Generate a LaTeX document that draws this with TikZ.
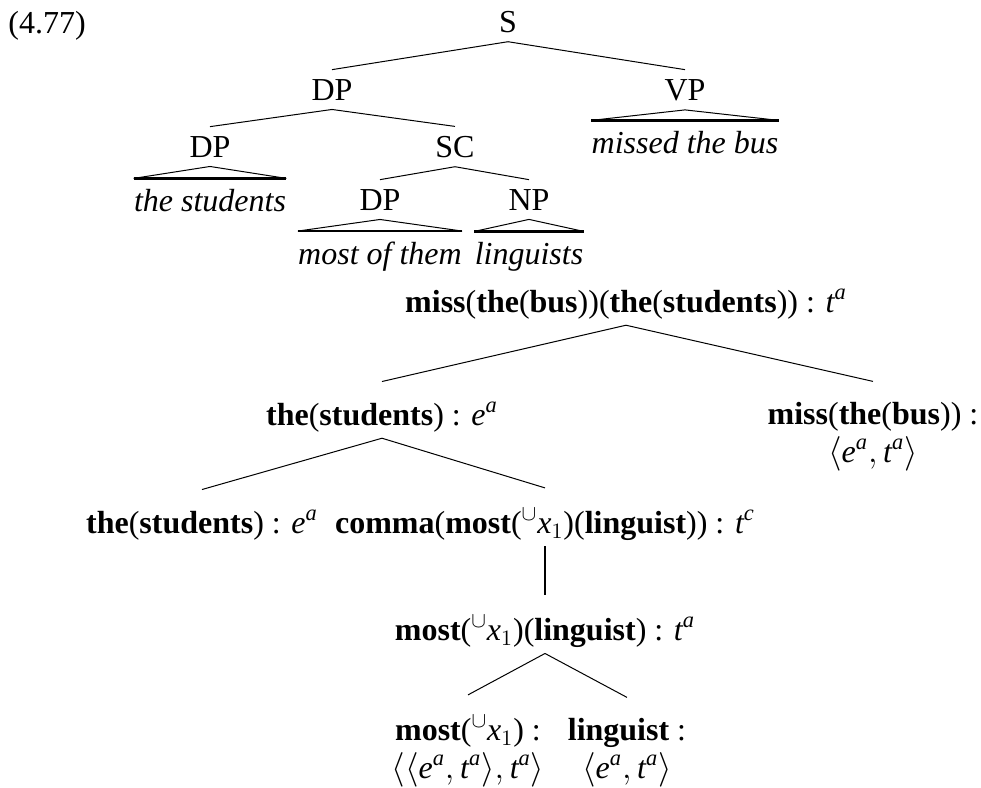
\documentclass[tikz,border=0pt]{standalone}
\usepackage{amsmath}
\usepackage{fontspec}
\setmainfont{Liberation Serif}
\usetikzlibrary{positioning}

\newcommand{\lexi}[1]{\textbf{#1}}
\newcommand{\stype}[2]{\ensuremath{\textit{#1}^{\textit{#2}}}}
\newcommand{\cupx}{\ensuremath{^{\cup}\textit{x}_{1}}}

\begin{document}
\begin{tikzpicture}[
  x=0.5pt, y=-0.5pt,
  font=\fontsize{16}{17}\selectfont,
  cat/.style={anchor=base, inner sep=4.5pt},
  leaf/.style={anchor=base, font=\fontsize{16}{17}\selectfont\itshape, inner xsep=0pt, inner ysep=5pt},
  sem/.style={anchor=base, inner sep=3pt, align=center},
  branch/.style={line width=0.5pt},
  roof/.style={line width=0.5pt},
  roofbase/.style={line width=1.3pt},
  unary/.style={line width=0.9pt}
]
\useasboundingbox (0,0) rectangle (981,788);

\node[anchor=base west, inner sep=0pt] (num) at (8,33) {(4.77)};

\node[cat] (s) at (508,32) {S};
\node[cat] (dpa) at (332,100) {DP};
\node[cat] (vp) at (685,100) {VP};
\node[cat] (dpb) at (210,157) {DP};
\node[cat] (sc) at (455,157) {SC};
\node[leaf] (stud) at (210,211) {the students};
\node[leaf] (bus) at (685,153) {missed the bus};
\node[cat] (dpc) at (380,210) {DP};
\node[cat] (np) at (529,210) {NP};
\node[leaf] (them) at (380,264) {most of them};
\node[leaf] (ling) at (529,264) {linguists};

\draw[branch] (s.south) -- (dpa.north);
\draw[branch] (s.south) -- (vp.north);
\draw[branch] (dpa.south) -- (dpb.north);
\draw[branch] (dpa.south) -- (sc.north);
\draw[branch] (sc.south) -- (dpc.north);
\draw[branch] (sc.south) -- (np.north);

\draw[roof] (vp.south) -- (bus.north west) (vp.south) -- (bus.north east);
\draw[roofbase] (bus.north west) -- (bus.north east);
\draw[roof] (dpb.south) -- (stud.north west) (dpb.south) -- (stud.north east);
\draw[roofbase] (stud.north west) -- (stud.north east);
\draw[roof] (dpc.south) -- (them.north west) (dpc.south) -- (them.north east);
\draw[roofbase] (them.north west) -- (them.north east);
\draw[roof] (np.south) -- (ling.north west) (np.south) -- (ling.north east);
\draw[roofbase] (ling.north west) -- (ling.north east);

\node[sem] (root) at (626,312) {\lexi{miss}(\lexi{the}(\lexi{bus}))(\lexi{the}(\lexi{students})) : \stype{t}{a}};
\node[sem] (lsub) at (382,425) {\lexi{the}(\lexi{students}) : \stype{e}{a}};
\node[sem] (rsub) at (873,462) {\lexi{miss}(\lexi{the}(\lexi{bus})) :\\[2pt] $\langle\stype{e}{a}, \stype{t}{a}\rangle$};
\node[sem] (lstu) at (202,533) {\lexi{the}(\lexi{students}) : \stype{e}{a}};
\node[sem] (comma) at (545,533) {\lexi{comma}(\lexi{most}(\cupx)(\lexi{linguist})) : \stype{t}{c}};
\node[sem] (mostl) at (545,640) {\lexi{most}(\cupx)(\lexi{linguist}) : \stype{t}{a}};
\node[sem] (leafa) at (468,778) {\lexi{most}(\cupx) :\\[2pt] $\langle\langle\stype{e}{a}, \stype{t}{a}\rangle, \stype{t}{a}\rangle$};
\node[sem] (leafb) at (627,778) {\lexi{linguist} :\\[2pt] $\langle\stype{e}{a}, \stype{t}{a}\rangle$};

\draw[branch] (root.south) -- ([yshift=7pt]lsub.north);
\draw[branch] (root.south) -- ([yshift=7pt]rsub.north);
\draw[branch] (lsub.south) -- ([yshift=7pt]lstu.north);
\draw[branch] (lsub.south) -- ([yshift=7pt]comma.north);
\draw[unary] (comma.south) -- ([yshift=7pt]mostl.north);
\draw[branch] (mostl.south) -- ([yshift=7pt]leafa.north);
\draw[branch] (mostl.south) -- ([yshift=7pt]leafb.north);
\end{tikzpicture}
\end{document}
